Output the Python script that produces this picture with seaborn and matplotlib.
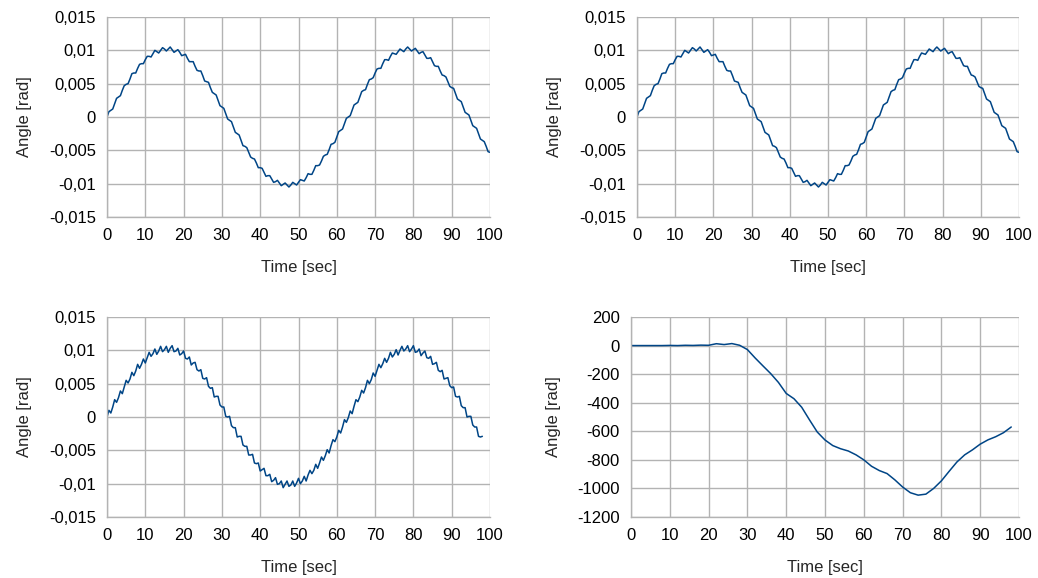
import numpy as np
import pandas as pd
import matplotlib
matplotlib.use("Agg")
import matplotlib.pyplot as plt
import seaborn as sns

# ---------------- data ----------------
# angle values in units of 1e-4 rad, sampled every 0.5 s
angle_top_1e4 = [
    0, 8, 10, 12, 20, 28, 30, 32, 40, 47, 49, 50, 57, 65, 66, 66, 73, 79, 80, 80,
    86, 91, 91, 90, 95, 100, 98, 96, 100, 104, 102, 99, 102, 105, 101, 97, 99, 101, 97, 92,
    93, 94, 88, 83, 83, 83, 76, 70, 69, 69, 62, 54, 53, 52, 44, 37, 35, 33, 25, 17,
    15, 13, 5, -3, -5, -7, -15, -23, -25, -27, -35, -43, -44, -46, -53, -60, -62, -63, -69, -76,
    -76, -77, -83, -89, -88, -88, -93, -98, -97, -95, -99, -103, -101, -99, -102, -105, -102, -98, -100, -102,
    -98, -94, -95, -96, -91, -85, -86, -86, -80, -73, -73, -72, -66, -59, -57, -56, -49, -41, -40, -38,
    -30, -22, -20, -18, -10, -2, 0, 2, 10, 18, 20, 22, 30, 38, 40, 41, 49, 56, 57, 59,
    66, 72, 73, 73, 80, 86, 86, 85, 91, 96, 95, 94, 98, 102, 100, 98, 102, 105, 102, 99,
    101, 103, 99, 95, 97, 98, 93, 88, 88, 89, 83, 77, 76, 76, 69, 63, 62, 60, 53, 46,
    44, 43, 35, 27, 25, 23, 15, 7, 5, 3, -5, -13, -15, -17, -25, -33, -35, -37, -44, -52,
    -53,
]

angle_noisy_1e4 = [
    0, 10, 6, 15, 26, 22, 29, 39, 35, 45, 55, 51, 57, 67, 62, 69, 79, 73, 79, 87,
    81, 89, 97, 91, 95, 102, 94, 99, 106, 98, 101, 106, 97, 103, 107, 98, 99, 103, 93, 95,
    99, 88, 87, 90, 78, 81, 82, 71, 69, 71, 58, 57, 59, 46, 43, 44, 30, 31, 31, 18,
    15, 15, 1, 0, 1, -13, -16, -16, -30, -29, -29, -42, -44, -44, -57, -57, -56, -69, -70, -69,
    -81, -79, -77, -88, -88, -86, -97, -95, -91, -101, -100, -96, -106, -101, -96, -104, -102, -96, -104, -99,
    -92, -100, -96, -89, -96, -87, -80, -85, -80, -71, -77, -69, -60, -65, -58, -49, -54, -43, -34, -37,
    -30, -20, -24, -15, -4, -8, -1, 9, 5, 16, 26, 23, 30, 40, 36, 44, 55, 50, 56, 66,
    61, 70, 79, 74, 80, 88, 82, 88, 97, 90, 94, 101, 93, 100, 106, 99, 102, 107, 98, 102,
    107, 97, 98, 102, 92, 96, 99, 89, 88, 91, 79, 80, 82, 70, 68, 70, 57, 58, 59, 47,
    44, 45, 31, 30, 31, 17, 14, 14, 0, 1, 1, -12, -15, -15, -29, -30, -29,
]

angle_big = [
    0, 0, 0, 0, 0, 1, 0, 2, 1, 3,
    2, 13, 7, 14, 2, -28, -87, -142, -196, -258,
    -335, -372, -432, -520, -605, -661, -700, -722, -738, -765,
    -800, -845, -875, -896, -940, -990, -1030, -1047, -1040, -1000,
    -947, -880, -815, -765, -730, -690, -660, -638, -610, -570,
]

time_top = np.linspace(0, 100, len(angle_top_1e4))
time_noisy = np.linspace(0, 98, len(angle_noisy_1e4))
time_big = np.linspace(0, 98, len(angle_big))

x_ticks = [0, 10, 20, 30, 40, 50, 60, 70, 80, 90, 100]
small_ticks = [-0.015, -0.01, -0.005, 0, 0.005, 0.01, 0.015]
small_labels = ["-0,015", "-0,01", "-0,005", "0", "0,005", "0,01", "0,015"]
big_ticks = [-1200, -1000, -800, -600, -400, -200, 0, 200]
big_labels = ["-1200", "-1000", "-800", "-600", "-400", "-200", "0", "200"]

# ---------------- style ----------------
sns.set_style("white")
plt.rcParams["font.family"] = ["Liberation Sans", "DejaVu Sans"]
plt.rcParams["font.size"] = 12

LINE = "#004586"
GRID = "#b3b3b3"

fig = plt.figure(figsize=(10.38, 5.78), dpi=100)
W, H = 1038, 578

def make_ax(x0, x1, y0, y1):
    return fig.add_axes([x0 / W, (H - y1) / H, (x1 - x0) / W, (y1 - y0) / H])

ax_tl = make_ax(107, 490, 17, 217)
ax_tr = make_ax(637, 1019, 17, 217)
ax_bl = make_ax(107, 490, 317, 517)
ax_br = make_ax(631, 1019, 317, 517)

df_top = pd.DataFrame({"t": time_top, "a": np.array(angle_top_1e4) * 1e-4})
df_noisy = pd.DataFrame({"t": time_noisy, "a": np.array(angle_noisy_1e4) * 1e-4})
df_big = pd.DataFrame({"t": time_big, "a": angle_big})

def style(ax, yticks, ylabels, ylim):
    ax.set_xlim(0, 100)
    ax.set_ylim(*ylim)
    ax.set_xticks(x_ticks)
    ax.set_xticklabels([str(v) for v in x_ticks])
    ax.set_yticks(yticks)
    ax.set_yticklabels(ylabels)
    ax.grid(True, color=GRID, linewidth=1)
    ax.set_axisbelow(True)
    for s in ["top", "right"]:
        ax.spines[s].set_visible(False)
    for s in ["left", "bottom"]:
        ax.spines[s].set_color(GRID)
        ax.spines[s].set_linewidth(1)
    ax.tick_params(axis="both", direction="out", length=5, width=1, color=GRID,
                   labelsize=12, labelcolor="black", pad=3)
    ax.set_xlabel("Time [sec]", fontsize=12, labelpad=12)
    ax.set_ylabel("Angle [rad]", fontsize=12, labelpad=12)

for ax, df in [(ax_tl, df_top), (ax_tr, df_top), (ax_bl, df_noisy)]:
    sns.lineplot(data=df, x="t", y="a", ax=ax, color=LINE, linewidth=1.1)
    style(ax, small_ticks, small_labels, (-0.015, 0.015))

sns.lineplot(data=df_big, x="t", y="a", ax=ax_br, color=LINE, linewidth=1.1)
style(ax_br, big_ticks, big_labels, (-1200, 200))

fig.savefig("out.png", dpi=100)
